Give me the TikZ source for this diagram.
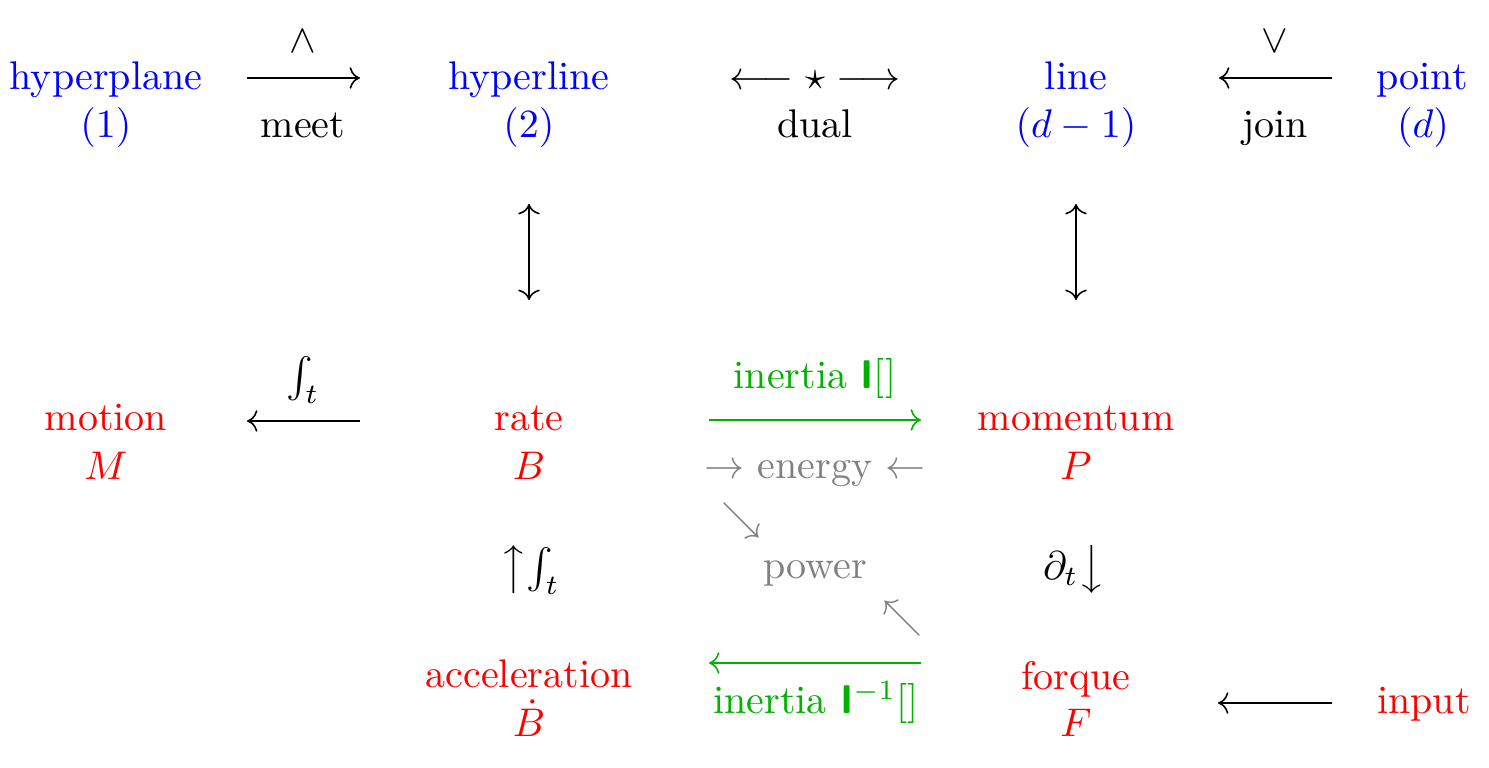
\documentclass[tikz,border=0pt]{standalone}
\usetikzlibrary{arrows.meta}
\definecolor{geoblue}{RGB}{0,0,255}
\definecolor{physred}{RGB}{255,0,0}
\definecolor{inertgreen}{RGB}{0,178,0}
\definecolor{flowgray}{RGB}{128,128,128}
\begin{document}
\begin{tikzpicture}[x=0.25pt,y=-0.25pt,
  every node/.style={inner sep=0pt,outer sep=0pt},
  lab/.style={anchor=base},
  geo/.style={lab,text=geoblue},
  phys/.style={lab,text=physred},
  inert/.style={lab,text=inertgreen},
  flow/.style={lab,text=flowgray},
  >={Computer Modern Rightarrow[length=2.6pt,width=5.4pt]},
  conn/.style={->,line width=0.4pt},
  gconn/.style={conn,draw=inertgreen}]
\useasboundingbox (0,0) rectangle (1489,768);

% ---- top row: geometry
\node[geo] (hyperplane) at (106,90) {hyperplane};
\node[geo] (hyperplane-d) at (106,138) {$(1)$};
\node[lab] (wedge) at (303,53) {$\wedge$};
\node[lab] (meet) at (303,138) {meet};
\coordinate (meet-l) at (247,78);
\coordinate (meet-r) at (360,78);
\draw[conn] (meet-l) -- (meet-r);

\node[geo] (hyperline) at (529,90) {hyperline};
\node[geo] (hyperline-d) at (529,138) {$(2)$};

\node[lab] (star) at (815,90) {$\longleftarrow \star \longrightarrow$};
\node[lab] (dual) at (815,138) {dual};

\node[geo] (line) at (1076,90) {line};
\node[geo] (line-d) at (1076,138) {$(d-1)$};

\node[lab] (vee) at (1275,53) {$\vee$};
\node[lab] (join) at (1275,138) {join};
\coordinate (join-l) at (1219,78);
\coordinate (join-r) at (1332,78);
\draw[conn] (join-r) -- (join-l);

\node[geo] (point) at (1422,90) {point};
\node[geo] (point-d) at (1423,138) {$(d)$};

% ---- vertical links
\coordinate (v1-t) at (529,204);
\coordinate (v1-b) at (529,300);
\draw[conn,<->] (v1-t) -- (v1-b);
\coordinate (v2-t) at (1076,204);
\coordinate (v2-b) at (1076,300);
\draw[conn,<->] (v2-t) -- (v2-b);

% ---- middle row: physics
\node[phys] (motion) at (106,431) {motion};
\node[phys] (motion-s) at (106,480) {$M$};
\node[lab] (int1) at (303,389) {$\int_t$};
\coordinate (int1-l) at (247,421);
\coordinate (int1-r) at (360,421);
\draw[conn] (int1-r) -- (int1-l);

\node[phys] (rate) at (529,431) {rate};
\node[phys] (rate-s) at (529,480) {$B$};

\node[inert] (inertia) at (815,389) {inertia \textsf{\bfseries I}[]};
\coordinate (in1-l) at (709,420);
\coordinate (in1-r) at (921,420);
\draw[gconn] (in1-l) -- (in1-r);

\node[flow] (energy) at (815,479) {$\rightarrow$ energy $\leftarrow$};

\node[phys] (momentum) at (1076,431) {momentum};
\node[phys] (momentum-s) at (1076,480) {$P$};

\node[text=flowgray] (se) at (741,521) {$\searrow$};
\node[flow] (power) at (815,579) {power};
\node[text=flowgray] (nw) at (902,619) {$\nwarrow$};

\node[lab] (int2) at (530,580) {$\big\uparrow\!\int_t$};
\node[lab] (dt) at (1074,580) {$\partial_t\big\downarrow$};

% ---- bottom row
\node[phys] (acceleration) at (529,688) {acceleration};
\node[phys] (acceleration-s) at (529,737) {$\dot B$};

\coordinate (in2-l) at (709,663);
\coordinate (in2-r) at (921,663);
\draw[gconn] (in2-r) -- (in2-l);
\node[inert] (inverse) at (816,714) {inertia \textsf{\bfseries I}$^{-1}$[]};

\node[phys] (forque) at (1076,690) {forque};
\node[phys] (forque-s) at (1076,737) {$F$};

\coordinate (inp-l) at (1218,703);
\coordinate (inp-r) at (1332,703);
\draw[conn] (inp-r) -- (inp-l);
\node[phys] (input) at (1424,714) {input};
\end{tikzpicture}
\end{document}
